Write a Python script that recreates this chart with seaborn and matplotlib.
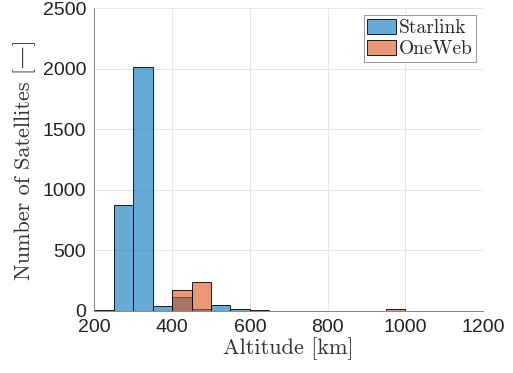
import numpy as np
import pandas as pd
import matplotlib
matplotlib.use("Agg")
import matplotlib.pyplot as plt
import seaborn as sns

# ---- data ----
starlink_edges = [200, 250, 300, 350, 400, 450, 500, 550, 600, 650]
starlink_counts = [3, 871, 2011, 39, 113, 12, 45, 17, 3]
oneweb_edges = [400, 450, 500, 550, 600, 650, 700, 750, 800, 850, 900, 950, 1000]
oneweb_counts = [174, 240, 0, 0, 0, 0, 0, 0, 0, 0, 0, 10]
series_labels = ["Starlink", "OneWeb"]
x_ticks = [200, 400, 600, 800, 1000, 1200]
y_ticks = [0, 500, 1000, 1500, 2000, 2500]

sns.set_style("white")
plt.rcParams["font.family"] = ["Liberation Sans", "DejaVu Sans"]

fig = plt.figure(figsize=(5.13, 3.73), dpi=100)
ax = fig.add_axes([0.184, 0.167, 0.9415 - 0.184, 0.978 - 0.167])

sl = pd.DataFrame({"alt": [(a + b) / 2 for a, b in zip(starlink_edges[:-1], starlink_edges[1:])],
                   "n": starlink_counts})
ow = pd.DataFrame({"alt": [(a + b) / 2 for a, b in zip(oneweb_edges[:-1], oneweb_edges[1:])],
                   "n": oneweb_counts})

blue = (0.0, 0.447, 0.741)
orange = (0.85, 0.325, 0.098)
sns.histplot(data=sl, x="alt", weights="n", bins=starlink_edges, color=blue, alpha=0.6,
             edgecolor="black", linewidth=0.6, label=series_labels[0], ax=ax)
sns.histplot(data=ow, x="alt", weights="n", bins=oneweb_edges, color=orange, alpha=0.6,
             edgecolor="black", linewidth=0.6, label=series_labels[1], ax=ax)

ax.set_xlim(200, 1200)
ax.set_ylim(0, 2500)
ax.set_xticks(x_ticks)
ax.set_yticks(y_ticks)
ax.tick_params(axis="both", direction="in", length=3, width=0.6, color="#555555",
               labelsize=14, labelcolor="#222222")
ax.tick_params(axis="x", pad=6)
ax.tick_params(axis="y", pad=6)
ax.grid(True, color="#e6e6e6", linewidth=0.7)
ax.set_axisbelow(True)
for s in ["top", "right"]:
    ax.spines[s].set_visible(False)
for s in ["left", "bottom"]:
    ax.spines[s].set_color("#888888")
    ax.spines[s].set_linewidth(0.7)

serif = ["cmr10", "DejaVu Serif"]
ax.set_xlabel("Altitude [km]", fontsize=16, family=serif, color="#333333", labelpad=1)
ax.set_ylabel("Number of Satellites [\u2014]", fontsize=16, family=serif, color="#333333", labelpad=5)

leg = ax.legend(loc="upper right", prop={"family": serif, "size": 14}, fancybox=False,
                framealpha=1, edgecolor="#999999", borderpad=0.2, handlelength=1.45,
                handleheight=0.8, handletextpad=0.15, labelspacing=0.15, borderaxespad=0.35)
leg.get_frame().set_linewidth(0.7)

fig.savefig("out.png", dpi=100)
